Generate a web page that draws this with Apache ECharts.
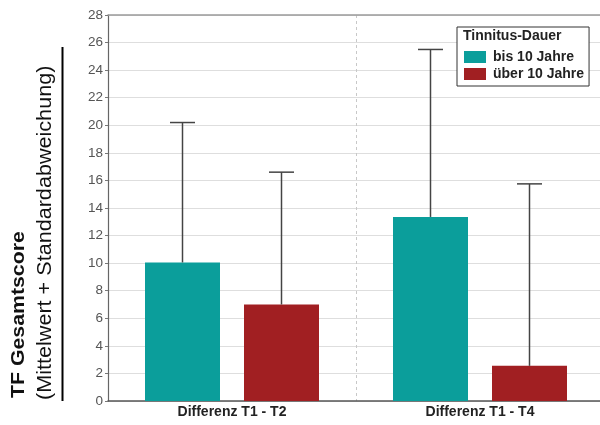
<!DOCTYPE html>
<html>
<head>
<meta charset="utf-8">
<script src="https://cdn.jsdelivr.net/npm/echarts@6/dist/echarts.min.js"></script>
<style>html,body{margin:0;padding:0;background:#fff}#c{width:600px;height:425px}</style>
</head>
<body>
<div id="c"></div>
<script>
const categories = ['Differenz T1 - T2', 'Differenz T1 - T4'];
const seriesNames = ['bis 10 Jahre', 'über 10 Jahre'];
const meanShort = [10.05, 13.35];
const sdShort = [10.15, 12.15];
const meanLong = [7.0, 2.55];
const sdLong = [9.6, 13.2];
const legendTitle = 'Tinnitus-Dauer';
const yTitleBold = 'TF Gesamtscore';
const yTitleRegular = '(Mittelwert + Standardabweichung)';
const yMin = 0, yMax = 28, yInterval = 2;

const colors = ['#0b9e9b', '#a11f22'];
const BAR_W = 75, GAP = 24;
const FONT = "'Liberation Sans', Arial, sans-serif";

function errData(means, sds) {
  return means.map((m, i) => [i, m, m + sds[i]]);
}
function makeErr(offset) {
  return function (params, api) {
    const idx = api.value(0);
    const p0 = api.coord([idx, api.value(1)]);
    const p1 = api.coord([idx, api.value(2)]);
    const x = p0[0] + offset;
    const st = { stroke: '#444', lineWidth: 1.5 };
    return {
      type: 'group',
      children: [
        { type: 'line', shape: { x1: x, y1: p0[1], x2: x, y2: p1[1] }, style: st },
        { type: 'line', shape: { x1: x - 12.5, y1: p1[1], x2: x + 12.5, y2: p1[1] }, style: st }
      ]
    };
  };
}

const chart = echarts.init(document.getElementById('c'), null, { renderer: 'canvas' });
const off = (BAR_W + GAP) / 2;
chart.setOption({
  animation: false,
  textStyle: { fontFamily: FONT },
  grid: { left: 108, right: -4, top: 15, bottom: 24, outerBoundsMode: 'none', containLabel: false },
  legend: {
    data: seriesNames,
    orient: 'vertical',
    left: 457, top: 27,
    padding: [23, 5, 5, 7],
    itemWidth: 22, itemHeight: 12, itemGap: 3,
    icon: 'rect',
    backgroundColor: '#fff',
    borderColor: '#333', borderWidth: 1,
    textStyle: { fontFamily: FONT, fontSize: 14, fontWeight: 'bold', color: '#222', lineHeight: 14, padding: [0, 0, 0, 2] }
  },
  xAxis: [{
    type: 'category',
    data: categories,
    axisLine: { lineStyle: { color: '#555', width: 1.5 } },
    axisTick: { show: false },
    axisLabel: { color: '#222', fontSize: 14, fontWeight: 'bold', margin: 4, fontFamily: FONT },
    splitLine: { show: true, lineStyle: { color: '#c8c8c8', type: [3, 3], width: 1 } }
  }, {
    type: 'category',
    data: categories,
    position: 'top',
    axisLine: { show: true, lineStyle: { color: '#9a9a9a', width: 1.5 } },
    axisTick: { show: false },
    axisLabel: { show: false },
    splitLine: { show: false }
  }],
  yAxis: {
    type: 'value',
    min: yMin, max: yMax, interval: yInterval,
    axisLine: { show: true, lineStyle: { color: '#666', width: 1.2 } },
    axisTick: { show: true, length: 3, lineStyle: { color: '#777' } },
    axisLabel: { color: '#555', fontSize: 13.5, margin: 5, fontFamily: FONT },
    splitLine: { show: true, lineStyle: { color: '#dedede', width: 1 } }
  },
  series: [
    { name: seriesNames[0], type: 'bar', data: meanShort, barWidth: BAR_W, barGap: (GAP / BAR_W * 100) + '%', itemStyle: { color: colors[0] }, z: 2 },
    { name: seriesNames[1], type: 'bar', data: meanLong, barWidth: BAR_W, barGap: (GAP / BAR_W * 100) + '%', itemStyle: { color: colors[1] }, z: 2 },
    { type: 'custom', renderItem: makeErr(-off), data: errData(meanShort, sdShort), encode: { x: 0, y: [1, 2] }, z: 5 },
    { type: 'custom', renderItem: makeErr(off), data: errData(meanLong, sdLong), encode: { x: 0, y: [1, 2] }, z: 5 }
  ],
  graphic: [
    { type: 'text', left: 463, top: 29, z: 100,
      style: { text: legendTitle, fontFamily: FONT, fontSize: 14, fontWeight: 'bold', fill: '#222' } },
    { type: 'text', x: 19, y: 398, rotation: Math.PI / 2, scaleX: 1.12, z: 100,
      style: { text: yTitleBold, fontFamily: FONT, fontSize: 19, fontWeight: 'bold', fill: '#111', align: 'left', verticalAlign: 'middle' } },
    { type: 'text', x: 45, y: 400, rotation: Math.PI / 2, scaleX: 1.08, z: 100,
      style: { text: yTitleRegular, fontFamily: FONT, fontSize: 20, fill: '#111', align: 'left', verticalAlign: 'middle' } },
    { type: 'line', z: 100, shape: { x1: 62.5, y1: 47, x2: 62.5, y2: 401 }, style: { stroke: '#000', lineWidth: 2 } }
  ]
});
</script>
</body>
</html>
